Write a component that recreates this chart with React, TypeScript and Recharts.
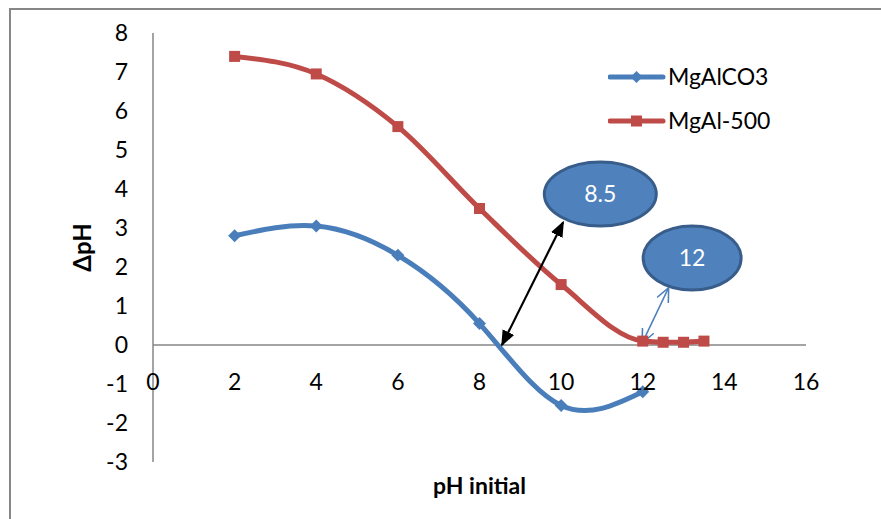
import React from "react";
import { LineChart, Line, XAxis, YAxis, ReferenceLine, ReferenceDot } from "recharts";

// pH initial vs ΔpH
const PH_CO3 = [2, 4, 6, 8, 10, 12];
const DPH_CO3 = [2.8, 3.05, 2.3, 0.55, -1.55, -1.2];
const PH_500 = [2, 4, 6, 8, 10, 12, 12.5, 13, 13.5];
const DPH_500 = [7.4, 6.95, 5.6, 3.5, 1.55, 0.1, 0.07, 0.07, 0.1];

const X_TICKS = [0, 2, 4, 6, 8, 10, 12, 14, 16];
const Y_TICKS = [-3, -2, -1, 0, 1, 2, 3, 4, 5, 6, 7, 8];

// callout bubbles and arrows (data coords)
const CALLOUT_LABELS = ["8.5", "12"];
const CALLOUT_X = [10.96, 13.21];
const CALLOUT_Y = [3.87, 2.23];
const ARROW_FROM = [[8.55, 0], [12.0, 0.08]];
const ARROW_TO = [[10.05, 3.15], [12.62, 1.44]];

const BLUE = "#4a7ebb";
const RED = "#be4b48";
const AXIS_GREY = "#868686";
const FONT = "Lato, 'Open Sans', sans-serif";
const FS = 23;

const co3 = PH_CO3.map((x, i) => ({ x, y: DPH_CO3[i] }));
const mg500 = PH_500.map((x, i) => ({ x, y: DPH_500[i] }));

function Diamond({ cx, cy }: any) {
  if (cx == null || cy == null) return null;
  return <path d={`M${cx - 6.5},${cy} L${cx},${cy - 6.5} L${cx + 6.5},${cy} L${cx},${cy + 6.5} Z`} fill={BLUE} />;
}

function Square({ cx, cy }: any) {
  if (cx == null || cy == null) return null;
  return <rect x={cx - 5.5} y={cy - 5.5} width={11} height={11} fill={RED} />;
}

function XTick({ x, y, payload }: any) {
  // labels sit under the zero line, not at the plot bottom
  return (
    <text x={x} y={y - 72} textAnchor="middle" fontSize={FS} fontFamily={FONT} fill="#000">
      {payload.value}
    </text>
  );
}

function arrowShape(kind: "black" | "blue") {
  return (p: any) => {
    const id = `ah-${kind}`;
    const col = kind === "black" ? "#000" : BLUE;
    return (
      <g>
        <defs>
          <marker id={id} viewBox="0 0 10 10" refX={9} refY={5}
            markerWidth={kind === "black" ? 16 : 14} markerHeight={kind === "black" ? 16 : 14}
            markerUnits="userSpaceOnUse" orient="auto-start-reverse">
            {kind === "black"
              ? <path d="M0,1 L10,5 L0,9 Z" fill={col} />
              : <path d="M0,0.5 L10,5 L0,9.5" fill="none" stroke={col} strokeWidth={1.1} />}
          </marker>
        </defs>
        <line x1={p.x1} y1={p.y1} x2={p.x2} y2={p.y2} stroke={col}
          strokeWidth={kind === "black" ? 2.2 : 1.5} markerStart={`url(#${id})`} markerEnd={`url(#${id})`} />
      </g>
    );
  };
}

function bubble(label: string, rx: number) {
  return (p: any) => (
    <g>
      <ellipse cx={p.cx} cy={p.cy} rx={rx} ry={32} fill="#4f81bd" stroke="#385d8a" strokeWidth={3} />
      <text x={p.cx} y={p.cy + 8} textAnchor="middle" fontSize={FS} fontFamily={FONT} fill="#fff">{label}</text>
    </g>
  );
}

function LegendBox() {
  return (
    <svg width={220} height={80} style={{ position: "absolute", left: 608, top: 62, fontFamily: FONT }}>
      <line x1={2} y1={15} x2={55} y2={15} stroke={BLUE} strokeWidth={5} strokeLinecap="round" />
      <path d="M28.5,9 L34.5,15 L28.5,21 L22.5,15 Z" fill={BLUE} />
      <text x={60} y={23} fontSize={FS} fill="#000">MgAlCO3</text>
      <line x1={2} y1={59} x2={55} y2={59} stroke={RED} strokeWidth={5} strokeLinecap="round" />
      <rect x={23} y={53.5} width={11} height={11} fill={RED} />
      <text x={60} y={67} fontSize={FS} fill="#000">MgAl-500</text>
    </svg>
  );
}

export default function App() {
  return (
    <div style={{ position: "absolute", left: 0, top: 0, width: 881, height: 519, overflow: "hidden", background: "#fff" }}>
      <div style={{ position: "absolute", left: 9, top: 8, width: 900, height: 540, borderTop: `2px solid ${AXIS_GREY}`, borderLeft: `2px solid ${AXIS_GREY}` }} />
      <div style={{ position: "absolute", left: 0, top: 0 }}>
        <LineChart width={881} height={519} margin={{ top: 33, right: 75, bottom: 56, left: 93 }}>
          <XAxis type="number" dataKey="x" domain={[0, 16]} ticks={X_TICKS} height={1}
            axisLine={false} tickLine={false} tickSize={0} tickMargin={0} tick={<XTick />}
            label={({ viewBox }: any) => (
              <text x={viewBox.x + viewBox.width / 2} y={viewBox.y + 32} textAnchor="middle"
                fontSize={FS} fontWeight="bold" fontFamily={FONT} fill="#000">pH initial</text>
            )} />
          <YAxis type="number" domain={[-3, 8]} ticks={Y_TICKS} width={60} interval={0}
            axisLine={{ stroke: AXIS_GREY, strokeWidth: 1.5 }} tickLine={false} tickSize={0} tickMargin={25}
            tick={{ fontSize: FS, fill: "#000", fontFamily: FONT }}
            label={({ viewBox }: any) => (
              <text x={viewBox.x - 10} y={viewBox.y + viewBox.height / 2} textAnchor="middle"
                transform={`rotate(-90 ${viewBox.x - 10} ${viewBox.y + viewBox.height / 2})`} dy={8}
                fontSize={24} fontWeight="bold" fontFamily={FONT} fill="#000">ΔpH</text>
            )} />
          <ReferenceLine y={0} stroke={AXIS_GREY} strokeWidth={1.5} />
          <Line data={co3} dataKey="y" name="MgAlCO3" type="natural" stroke={BLUE} strokeWidth={5}
            dot={<Diamond />} activeDot={false} isAnimationActive={false} />
          <Line data={mg500} dataKey="y" name="MgAl-500" type="monotone" stroke={RED} strokeWidth={5}
            dot={<Square />} activeDot={false} isAnimationActive={false} />
          <ReferenceLine segment={[{ x: ARROW_FROM[0][0], y: ARROW_FROM[0][1] }, { x: ARROW_TO[0][0], y: ARROW_TO[0][1] }]}
            shape={arrowShape("black")} />
          <ReferenceLine segment={[{ x: ARROW_FROM[1][0], y: ARROW_FROM[1][1] }, { x: ARROW_TO[1][0], y: ARROW_TO[1][1] }]}
            shape={arrowShape("blue")} />
          {CALLOUT_LABELS.map((lab, i) => (
            <ReferenceDot key={lab} x={CALLOUT_X[i]} y={CALLOUT_Y[i]} r={0}
              shape={bubble(lab, i === 0 ? 56 : 49)} />
          ))}
        </LineChart>
      </div>
      <LegendBox />
    </div>
  );
}
